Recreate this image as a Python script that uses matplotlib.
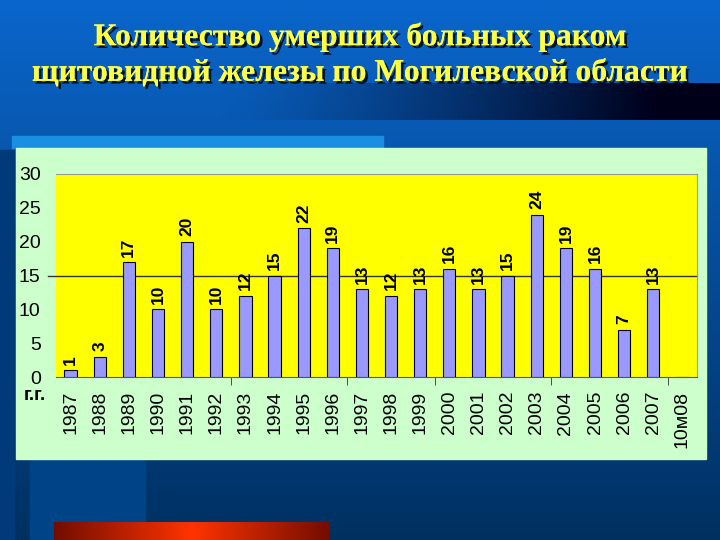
import matplotlib.pyplot as plt
import numpy as np
from matplotlib.patches import Rectangle
import matplotlib.patheffects as pe

years = ['1987', '1988', '1989', '1990', '1991', '1992', '1993', '1994', '1995', '1996', '1997',
         '1998', '1999', '2000', '2001', '2002', '2003', '2004', '2005', '2006', '2007', '10м08']
deaths = [1, 3, 17, 10, 20, 10, 12, 15, 22, 19, 13, 12, 13, 16, 13, 15, 24, 19, 16, 7, 13, None]
yticks = [0, 5, 10, 15, 20, 25, 30]
tick_bounds = [6, 10, 13, 17, 21]

W, H = 720, 540
fig = plt.figure(figsize=(7.2, 5.4), dpi=100)
plt.rcParams['font.family'] = ['Liberation Sans', 'DejaVu Sans']


def box(x0, y0, x1, y1):
    # pixel box (top-left origin) -> figure fraction rect
    return [x0 / W, 1 - y1 / H, (x1 - x0) / W, (y1 - y0) / H]


# slide background
bg = fig.add_axes([0, 0, 1, 1])
bg.set_axis_off()
bg.set_xlim(0, W)
bg.set_ylim(H, 0)
top = np.array([0.04, 0.40, 0.80])
bot = np.array([0.0, 0.19, 0.38])
t = np.linspace(0, 1, 200)[:, None, None]
grad = top * (1 - t) + bot * t
grad = np.repeat(grad, 2, axis=1)
bg.imshow(grad, extent=[0, W, H, 0], aspect='auto', zorder=0)
bg.add_patch(Rectangle((0, 150), 14, 390, color='#003a7a', zorder=1))
bg.add_patch(Rectangle((30, 459), 115, 81, color='#004488', zorder=1))

# dark band behind second title line
band = np.zeros((2, 300, 4))
s = np.linspace(0, 1, 300)
band[..., 2] = 0.1
band[..., 3] = np.clip(s * 1.5 - 0.35, 0, 1) ** 1.3
bg.imshow(band, extent=[60, W, 120, 83], aspect='auto', zorder=1)

# red gradient bar at bottom
red = np.zeros((2, 300, 3))
r = 1 - np.abs(np.linspace(-1, 1, 300))
red[..., 0] = 0.45 + 0.55 * r
red[..., 1] = 0.05 + 0.15 * r
bg.imshow(red, extent=[54, 330, 540, 522], aspect='auto', zorder=1)

bg.add_patch(Rectangle((12, 136), 371, 12, color='#1a8ee0', zorder=2))
bg.add_patch(Rectangle((16, 148), 690, 311, color='#ccffcc', zorder=2))

title = 'Количество умерших больных раком\nщитовидной железы по Могилевской области'
bg.text(W / 2, 55, title, ha='center', va='center', fontsize=22.8, fontweight='bold',
        family='Liberation Serif', color='#ffff44', linespacing=1.3, zorder=3,
        path_effects=[pe.withSimplePatchShadow(offset=(2, -2), shadow_rgbFace='#000000', alpha=0.8),
                      pe.Normal()])

# chart
ax = fig.add_axes(box(56, 174, 697, 377))
ax.set_facecolor('#ffff00')
x = np.arange(len(years))
vals = [v if v is not None else 0 for v in deaths]
ax.bar(x, vals, width=0.42, color='#9999ff', edgecolor='black', linewidth=0.8, zorder=3)
for xi, v in zip(x, deaths):
    if v is not None:
        ax.text(xi, v + 0.8, str(v), rotation=90, ha='center', va='bottom',
                fontsize=12.5, fontweight='bold', zorder=4)
ax.axhline(15, color='#333333', linewidth=1, zorder=2, clip_on=False, xmin=-0.012)
ax.set_xlim(-0.5, len(years) - 0.5)
ax.set_ylim(0, 30)
ax.set_yticks(yticks)
ax.set_yticklabels([str(v) for v in yticks], fontsize=14)
ax.tick_params(axis='y', length=0, pad=11)
ax.set_xticks(x)
ax.set_xticklabels(years, rotation=90, fontsize=14)
ax.tick_params(axis='x', length=0, pad=10)
ax.set_xticks([b - 0.5 for b in tick_bounds], minor=True)
ax.tick_params(axis='x', which='minor', length=6, color='#333333', direction='out')
ax.spines['left'].set_visible(False)
ax.spines['top'].set_color('#999999')
ax.spines['bottom'].set_color('#555555')
ax.spines['right'].set_color('#999999')
bg.text(24, 396, 'г.г.', fontsize=13.5, fontweight='bold', va='center', ha='left', zorder=5)

fig.savefig('out.png', dpi=100)
